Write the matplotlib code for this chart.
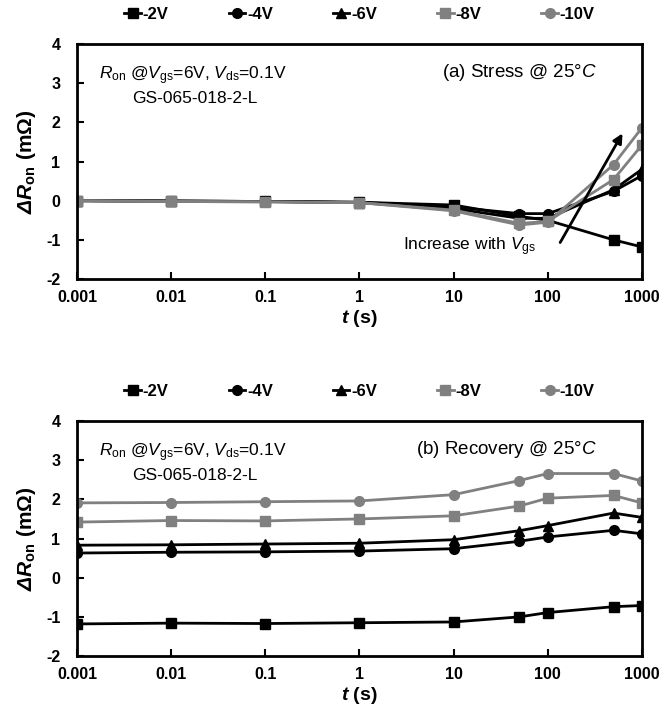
import matplotlib.pyplot as plt
import numpy as np

# time points (s)
t = [0.001, 0.01, 0.1, 1, 10, 50, 100, 500, 1000]
labels = ['-2V', '-4V', '-6V', '-8V', '-10V']

# (a) stress, delta Ron (mOhm)
stress = {
    '-2V':  [0.0, -0.01, -0.02, -0.04, -0.11, -0.40, -0.50, -1.00, -1.18],
    '-4V':  [0.0, -0.01, -0.02, -0.04, -0.16, -0.33, -0.33, 0.24, 0.64],
    '-6V':  [0.0, -0.01, -0.02, -0.05, -0.20, -0.45, -0.45, 0.28, 0.80],
    '-8V':  [0.0, -0.02, -0.03, -0.05, -0.24, -0.58, -0.53, 0.54, 1.42],
    '-10V': [0.0, -0.02, -0.03, -0.05, -0.26, -0.62, -0.55, 0.92, 1.86],
}

# (b) recovery
recovery = {
    '-2V':  [-1.18, -1.16, -1.17, -1.15, -1.13, -1.00, -0.89, -0.74, -0.71],
    '-4V':  [0.63, 0.65, 0.66, 0.68, 0.74, 0.93, 1.04, 1.21, 1.12],
    '-6V':  [0.83, 0.84, 0.86, 0.88, 0.97, 1.20, 1.33, 1.65, 1.54],
    '-8V':  [1.42, 1.46, 1.45, 1.50, 1.58, 1.83, 2.03, 2.10, 1.91],
    '-10V': [1.91, 1.92, 1.94, 1.96, 2.12, 2.48, 2.66, 2.66, 2.47],
}

styles = {
    '-2V':  ('black', 's'),
    '-4V':  ('black', 'o'),
    '-6V':  ('black', '^'),
    '-8V':  ('#808080', 's'),
    '-10V': ('#808080', 'o'),
}

plt.rcParams['font.family'] = ['Liberation Sans', 'DejaVu Sans']
plt.rcParams['axes.unicode_minus'] = False
plt.rcParams['mathtext.fontset'] = 'custom'
plt.rcParams['mathtext.rm'] = 'Liberation Sans'
plt.rcParams['mathtext.it'] = 'Liberation Sans:italic'
plt.rcParams['mathtext.bf'] = 'Liberation Sans:bold'
plt.rcParams['mathtext.bfit'] = 'Liberation Sans:italic:bold'

fig = plt.figure(figsize=(6.59, 7.10), dpi=100)
ax1 = fig.add_axes([0.117, 0.607, 0.857, 0.331])
ax2 = fig.add_axes([0.117, 0.076, 0.857, 0.331])


def draw(ax, data, title, leg_y):
    for lab in labels:
        c, m = styles[lab]
        ax.plot(t, data[lab], color=c, marker=m, markersize=7, lw=2, label=lab)
    ax.set_xscale('log')
    ax.set_xlim(0.001, 1000)
    ax.set_ylim(-2, 4)
    ax.set_xticks([0.001, 0.01, 0.1, 1, 10, 100, 1000])
    ax.set_xticklabels(['0.001', '0.01', '0.1', '1', '10', '100', '1000'])
    ax.minorticks_off()
    ax.set_yticks(np.arange(-2, 5, 1))
    for lbl in ax.get_xticklabels() + ax.get_yticklabels():
        lbl.set_fontweight('bold')
        lbl.set_fontsize(11.5)
    ax.tick_params(direction='in', width=1.5, length=5)
    ax.tick_params(axis='x', pad=8)
    ax.tick_params(axis='y', pad=12)
    for s in ax.spines.values():
        s.set_linewidth(2)
    ax.set_xlabel(r'$\mathbfit{t}$ (s)', fontsize=14, fontweight='bold', labelpad=2)
    ax.set_ylabel(r'$\mathbfit{\Delta R}_{\mathbf{on}}$ (m$\mathbf{\Omega}$)', fontsize=15,
                  fontweight='bold', labelpad=6)
    ax.text(0.0017, 3.2, r'$\mathit{R}_{\rm on}$ @$\mathit{V}_{\rm gs}$=6V, $\mathit{V}_{\rm ds}$=0.1V', fontsize=12.5, va='center')
    ax.text(0.0038, 2.62, 'GS-065-018-2-L', fontsize=12.5, va='center')
    ax.text(0.92, 0.88, title, transform=ax.transAxes, ha='right', va='center', fontsize=13.5)
    ax.legend(loc='center', bbox_to_anchor=(0.5, leg_y), ncol=5, frameon=False,
              handlelength=1.0, handletextpad=0.1, columnspacing=3.6,
              prop={'weight': 'bold', 'size': 12}, markerscale=1.0)


draw(ax1, stress, r'(a) Stress @ $\mathit{25°C}$', 1.125)
draw(ax2, recovery, r'(b) Recovery @ $\mathit{25°C}$', 1.125)

ax1.annotate('', xy=(644, 1.78), xytext=(131, -1.13),
             arrowprops=dict(arrowstyle='-|>', color='black', lw=2, mutation_scale=14))
ax1.text(2.9, -1.18, r'Increase with $\mathit{V}_{\rm gs}$', fontsize=12.5, va='center')

fig.savefig('out.png', dpi=100)
